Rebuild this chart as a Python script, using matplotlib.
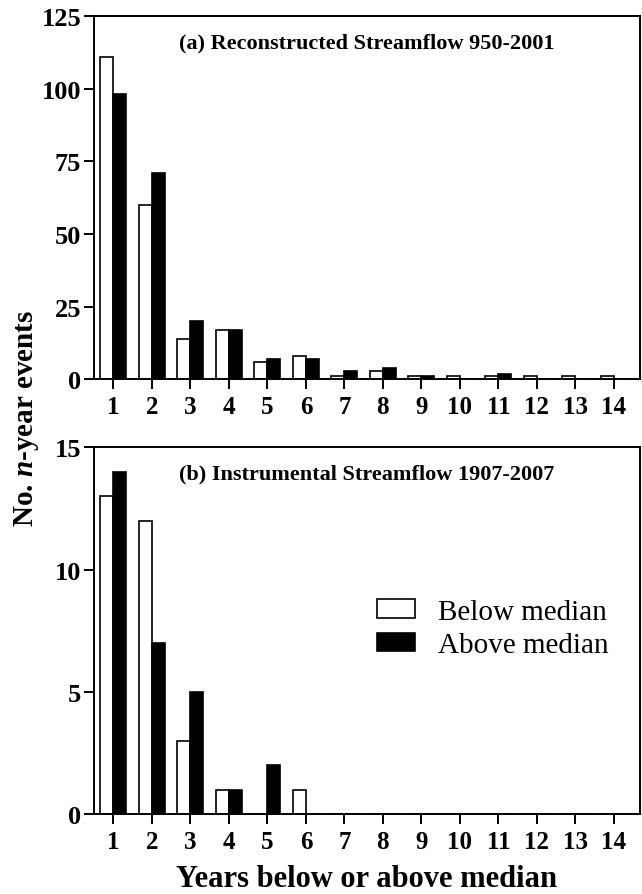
import matplotlib
matplotlib.use("Agg")
import matplotlib.pyplot as plt
import numpy as np

plt.rcParams['font.family'] = ['Liberation Serif', 'DejaVu Serif']
plt.rcParams['font.weight'] = 'bold'
plt.rcParams['mathtext.fontset'] = 'custom'
plt.rcParams['mathtext.bfit'] = 'Liberation Serif:italic:bold'
plt.rcParams['mathtext.rm'] = 'Liberation Serif:bold'

years = np.arange(1, 15)
recon_below = [111, 60, 14, 17, 6, 8, 1, 3, 1, 1, 1, 1, 1, 1]
recon_above = [98, 71, 20, 17, 7, 7, 3, 4, 1, 0, 2, 0, 0, 0]
instr_below = [13, 12, 3, 1, 0, 1, 0, 0, 0, 0, 0, 0, 0, 0]
instr_above = [14, 7, 5, 1, 2, 0, 0, 0, 0, 0, 0, 0, 0, 0]

panels = [
    ("(a) Reconstructed Streamflow 950-2001", recon_below, recon_above, [0, 25, 50, 75, 100, 125]),
    ("(b) Instrumental Streamflow 1907-2007", instr_below, instr_above, [0, 5, 10, 15]),
]

fig = plt.figure(figsize=(6.42, 8.95), dpi=100)
ax_top = fig.add_axes([0.146, 0.575, 0.851, 0.406])
ax_bot = fig.add_axes([0.146, 0.089, 0.851, 0.410])

w = 0.34
for ax, (title, below, above, yt) in zip([ax_top, ax_bot], panels):
    ax.bar(years, below, width=-w, align='edge', color='white',
           edgecolor='black', linewidth=1.2, label='Below median')
    ax.bar(years, above, width=w, align='edge', color='black',
           edgecolor='black', linewidth=1.2, label='Above median')
    ax.set_xlim(0.49, 14.68)
    ax.set_ylim(0, yt[-1])
    ax.set_xticks(years)
    ax.set_yticks(yt)
    ax.tick_params(axis='x', labelsize=18, length=7, width=1.4, pad=4)
    ax.tick_params(axis='y', labelsize=19, length=7, width=1.4, pad=2)
    for s in ax.spines.values():
        s.set_linewidth(1.4)
    ax.text(0.5, 0.928, title, transform=ax.transAxes, ha='center', va='center',
            fontsize=16, fontweight='bold')

ax_bot.legend(loc='center left', bbox_to_anchor=(0.492, 0.506), frameon=False,
              prop={'weight': 'normal', 'size': 21},
              handlelength=1.3, handleheight=0.62, handletextpad=0.8,
              labelspacing=0.25, borderpad=0)

fig.text(0.042, 0.533, "No. $\\mathbfit{n}$-year events", rotation=90,
         ha='center', va='center', fontsize=21, fontweight='bold')
fig.text(0.571, 0.017, "Years below or above median", ha='center', va='center',
         fontsize=22, fontweight='bold')

fig.savefig("out.png", dpi=100)
